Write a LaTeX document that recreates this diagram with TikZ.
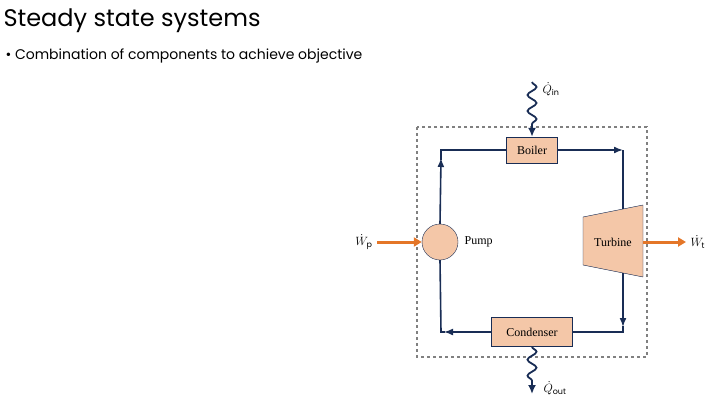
\documentclass[tikz,border=0pt]{standalone}
\usepackage{fontspec}
\setmainfont{Poppins}
\newfontfamily\diagfont{Liberation Serif}
\usepackage{tikz}
\usetikzlibrary{arrows.meta, decorations.pathmorphing, positioning}
\definecolor{peach}{RGB}{244,199,168}
\definecolor{navy}{RGB}{25,45,85}
\definecolor{work}{RGB}{228,118,40}

\begin{document}
\begin{tikzpicture}[
    x=1pt, y=-1pt,
    every node/.style={font=\diagfont\fontsize{12}{14}\selectfont},
    unit/.style={rectangle, draw=navy, fill=peach, inner sep=0pt},
    flow/.style={draw=navy, line width=1.6pt},
    flow arrow/.style={flow, -{Latex[length=9pt,width=7pt]}},
    heat/.style={draw=navy, line width=1.8pt, decorate, decoration={snake, amplitude=4.5pt, segment length=16pt, post length=8pt}, -{Latex[length=9pt,width=8pt]}},
    power/.style={draw=work, line width=3pt, -{Triangle[length=8pt,width=9pt]}}
]
\useasboundingbox (0,0) rectangle (720,404);
% Slide text
\node[anchor=west, font=\fontsize{24}{28}\selectfont] (title) at (0,21) {Steady state systems};
\node[anchor=west, font=\fontsize{14}{17}\selectfont] (bullet) at (2,56) {\textbullet\ Combination of components to achieve objective};
% Control volume
\draw[gray, dashed, line width=1.4pt] (417,127) rectangle (647,357);
% Components
\node[unit, minimum width=51pt, minimum height=26pt] (Boiler) at (532,150) {Boiler};
\node[unit, minimum width=81pt, minimum height=29pt] (Condenser) at (532,332) {Condenser};
\node[circle, draw=navy, fill=peach, minimum size=36pt, inner sep=0pt] (Pump) at (440,242) {};
\node[right=3pt of Pump] (PumpLabel) {Pump};
\draw[navy, fill=peach] (583,217) coordinate (TurbTL) -- (643,205) coordinate (TurbTR)
    -- (643,277) coordinate (TurbBR) -- (583,265) coordinate (TurbBL) -- cycle;
\node (Turbine) at (613,242) {Turbine};
\coordinate (TurbIn) at (623,209);
\coordinate (TurbOut) at (623,273);
\coordinate (TopLeft) at (441,150);
\coordinate (TopRight) at (623,150);
\coordinate (BotLeft) at (441,332);
\coordinate (BotRight) at (623,332);
% Working fluid loop
\draw[flow arrow] (Pump.north) -- (441,158);
\draw[flow] (441,160) -- (TopLeft) -- (Boiler.west);
\draw[flow arrow] (Boiler.east) -- (TopRight);
\draw[flow] (TopRight) -- (TurbIn);
\draw[flow arrow] (TurbOut) -- (623,327);
\draw[flow] (623,326) -- (BotRight) -- (Condenser.east);
\draw[flow arrow] (Condenser.west) -- (444,332);
\draw[flow] (445,332) -- (BotLeft) -- (Pump.south);
% Heat and work
\coordinate (QinStart) at (532,82);
\coordinate (QoutEnd) at (532,394);
\draw[heat] (QinStart) -- (Boiler.north);
\draw[heat] (Condenser.south) -- (QoutEnd);
\node[right] (Qin) at (539,89) {$\dot Q_{\mathrm{in}}$};
\node[right] (Qout) at (540,388) {$\dot Q_{\mathrm{out}}$};
\coordinate (WpStart) at (377,242);
\coordinate (WtEnd) at (686,242);
\draw[power] (WpStart) -- (Pump.west);
\draw[power] (643,242) -- (WtEnd);
\node[left] (Wp) at (376,242) {$\dot W_{\mathrm{p}}$};
\node[right] (Wt) at (687,242) {$\dot W_{\mathrm{t}}$};
\end{tikzpicture}
\end{document}
